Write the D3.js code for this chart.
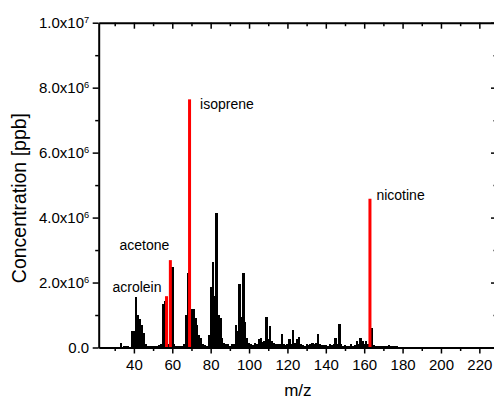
<!DOCTYPE html>
<html>
<head>
<meta charset="utf-8">
<script src="https://cdn.jsdelivr.net/npm/d3@7"></script>
<style>
  html, body { margin: 0; padding: 0; background: #fff; overflow: hidden; }
  svg { display: block; font-family: "Liberation Sans", Arial, sans-serif; }
</style>
</head>
<body>
<svg id="chart" width="494" height="399"></svg>
<script>
// ---- data (concentration in units of 1e6 ppb) ----
const mzStart = 30;
const spectrum = [
  0.01, 0.02, 0.03, 0.13, 0.02, 0.05, 0.04, 0.06, 0.03, 0.50,
  0.52, 1.56, 1.00, 0.88, 0.70, 0.45, 0.12, 0.06, 0.04, 0.05,
  0.04, 0.06, 0.05, 0.08, 0.12, 1.35, 1.43, 0.00, 0.10, 0.00,
  2.49, 0.12, 0.06, 0.05, 0.04, 0.06, 0.10, 1.00, 2.30, 0.00,
  1.18, 1.18, 0.90, 0.70, 0.38, 0.30, 0.10, 0.08, 0.05, 0.38,
  1.87, 2.64, 1.60, 4.13, 1.00, 0.92, 0.30, 0.15, 0.10, 0.12,
  0.06, 0.12, 0.10, 0.69, 0.50, 1.94, 0.95, 2.30, 0.78, 0.28,
  0.15, 0.10, 0.08, 0.15, 0.12, 0.25, 0.30, 0.18, 0.20, 0.93,
  0.25, 0.66, 0.20, 0.15, 0.12, 0.10, 0.12, 0.42, 0.10, 0.08,
  0.10, 0.26, 0.12, 0.54, 0.15, 0.25, 0.31, 0.10, 0.08, 0.06,
  0.10, 0.08, 0.12, 0.15, 0.12, 0.15, 0.42, 0.12, 0.08, 0.07,
  0.08, 0.06, 0.10, 0.08, 0.12, 0.28, 0.10, 0.72, 0.12, 0.06,
  0.08, 0.05, 0.06, 0.10, 0.06, 0.08, 0.20, 0.10, 0.28, 0.20,
  0.10, 0.20, 0.10, 0.00, 0.59, 0.08, 0.04, 0.05, 0.06, 0.05,
  0.04, 0.06, 0.05, 0.08, 0.06, 0.05, 0.04, 0.04, 0.03, 0.03,
  0.03, 0.02, 0.03, 0.02, 0.02, 0.03, 0.02, 0.02, 0.02, 0.03,
  0.02, 0.02, 0.01, 0.02, 0.01, 0.01, 0.01, 0.01, 0.01, 0.01,
  0.01
];
const compounds = ["acrolein", "acetone", "isoprene", "nicotine"];
const compoundMz = [57, 59, 69, 163];
const compoundConc = [1.58, 2.69, 7.64, 4.58];
const xMajorTicks = [40, 60, 80, 100, 120, 140, 160, 180, 200, 220];
const xMinorTicks = [30, 50, 70, 90, 110, 130, 150, 170, 190, 210];
const yMajorTicks = [0, 2, 4, 6, 8, 10];
const yMinorTicks = [1, 3, 5, 7, 9];
const yTickMantissa = ["0.0", "2.0", "4.0", "6.0", "8.0", "1.0"];
const yTickExponent = ["", "6", "6", "6", "6", "7"];
const xTitle = "m/z";
const yTitle = "Concentration [ppb]";

const blackData = spectrum.map((v, i) => ({ mz: mzStart + i, v }));
const redData = compounds.map((n, i) => ({ name: n, mz: compoundMz[i], v: compoundConc[i] }));

// ---- layout ----
const L = 98.7, R = 497, T = 22.7, B = 347.5;
const svg = d3.select("#chart");
const x = d3.scaleLinear().domain([21.66, 229.2]).range([L, R]);
const y = d3.scaleLinear().domain([0, 10]).range([B, T]);
const unit = x(1) - x(0);

// bars
svg.append("g").attr("shape-rendering", "crispEdges").selectAll("rect").data(blackData).join("rect")
  .attr("x", d => x(d.mz) - unit / 2)
  .attr("width", unit + 0.3)
  .attr("y", d => y(d.v))
  .attr("height", d => B - y(d.v))
  .attr("fill", "#000");

svg.append("g").selectAll("rect").data(redData).join("rect")
  .attr("x", d => x(d.mz) - 1.5)
  .attr("width", 3)
  .attr("y", d => y(d.v))
  .attr("height", d => B - y(d.v))
  .attr("fill", "#ff0000");

// axes
function styleAxis(g) {
  g.select(".domain").attr("stroke-width", 2).attr("stroke", "#000");
  g.selectAll(".tick line").attr("stroke-width", 1.5).attr("stroke", "#000");
}
const fs = 15;
// bottom
const gb = svg.append("g").attr("transform", `translate(0,${B})`)
  .call(d3.axisBottom(x).tickValues(xMajorTicks).tickSize(6).tickSizeOuter(0).tickPadding(6).tickFormat(d3.format("d")));
gb.selectAll("text").attr("font-size", fs).attr("fill", "#000").attr("font-family", "Liberation Sans, Arial, sans-serif");
styleAxis(gb);
svg.append("g").attr("transform", `translate(0,${B})`)
  .call(d3.axisBottom(x).tickValues(xMinorTicks).tickSize(3.5).tickSizeOuter(0).tickFormat(""))
  .call(g => g.select(".domain").remove())
  .call(styleAxis);
// top
const gt = svg.append("g").attr("transform", `translate(0,${T})`)
  .call(d3.axisTop(x).tickValues(xMajorTicks).tickSize(-6).tickSizeOuter(0).tickFormat(""));
styleAxis(gt);
svg.append("g").attr("transform", `translate(0,${T})`)
  .call(d3.axisTop(x).tickValues(xMinorTicks).tickSize(-3.5).tickSizeOuter(0).tickFormat(""))
  .call(g => g.select(".domain").remove())
  .call(styleAxis);
// left
const gl = svg.append("g").attr("transform", `translate(${L},0)`)
  .call(d3.axisLeft(y).tickValues(yMajorTicks).tickSize(6).tickSizeOuter(0).tickFormat(""));
styleAxis(gl);
svg.append("g").attr("transform", `translate(${L},0)`)
  .call(d3.axisLeft(y).tickValues(yMinorTicks).tickSize(3.5).tickSizeOuter(0).tickFormat(""))
  .call(g => g.select(".domain").remove())
  .call(styleAxis);
gl.selectAll(".tick").each(function(d, i) {
  const t = d3.select(this).append("text")
    .attr("x", -9.5).attr("dy", "0.35em")
    .attr("text-anchor", "end").attr("font-size", fs).attr("fill", "#000");
  t.append("tspan").text(yTickMantissa[i] + (yTickExponent[i] ? "x10" : ""));
  if (yTickExponent[i]) {
    t.append("tspan").attr("dy", "-0.55em").attr("font-size", fs * 0.62).text(yTickExponent[i]);
  }
});
// right
const gr = svg.append("g").attr("transform", `translate(${R},0)`)
  .call(d3.axisRight(y).tickValues(yMajorTicks).tickSize(-6).tickSizeOuter(0).tickFormat(""));
styleAxis(gr);
svg.append("g").attr("transform", `translate(${R},0)`)
  .call(d3.axisRight(y).tickValues(yMinorTicks).tickSize(-3.5).tickSizeOuter(0).tickFormat(""))
  .call(g => g.select(".domain").remove())
  .call(styleAxis);

// annotations
const annFs = 14;
const ann = svg.append("g").attr("font-size", annFs).attr("fill", "#000");
const annOffsets = {
  acrolein: { dx: -5, dy: -4, anchor: "end" },
  acetone:  { dx: -1, dy: -10, anchor: "end" },
  isoprene: { dx: 10.5, dy: 10, anchor: "start" },
  nicotine: { dx: 6.5, dy: 1.5, anchor: "start" }
};
redData.forEach(d => {
  const o = annOffsets[d.name];
  ann.append("text")
    .attr("x", x(d.mz) + o.dx).attr("y", y(d.v) + o.dy)
    .attr("text-anchor", o.anchor).text(d.name);
});

// axis titles
svg.append("text").attr("x", (L + R) / 2).attr("y", 395.5)
  .attr("text-anchor", "middle").attr("font-size", 17).text(xTitle);
svg.append("text").attr("transform", `translate(25.5,${(T + B) / 2 + 13}) rotate(-90)`)
  .attr("text-anchor", "middle").attr("font-size", 19.5).text(yTitle);
</script>
</body>
</html>
